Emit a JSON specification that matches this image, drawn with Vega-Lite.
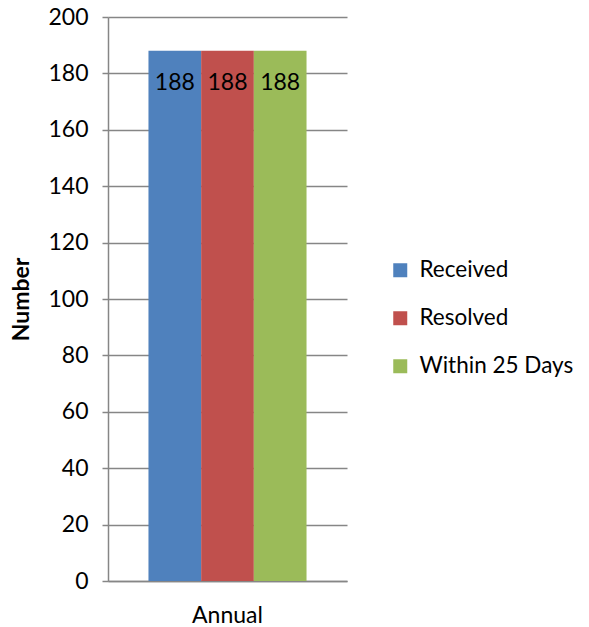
{
  "$schema": "https://vega.github.io/schema/vega-lite/v6.json",
  "width": 239,
  "height": 564,
  "autosize": {"type": "none"},
  "padding": {"left": 108, "top": 17, "right": 242, "bottom": 46},
  "background": "white",
  "config": {"font": "Lato", "view": {"stroke": null}},
  "data": {
    "values": [
      {"period": "Annual", "series": "Received", "value": 188},
      {"period": "Annual", "series": "Resolved", "value": 188},
      {"period": "Annual", "series": "Within 25 Days", "value": 188}
    ]
  },
  "encoding": {
    "x": {
      "field": "period",
      "type": "nominal",
      "scale": {"paddingInner": 0, "paddingOuter": 0.256},
      "axis": {
        "title": null,
        "labelAngle": 0,
        "labelFontSize": 23,
        "labelColor": "black",
        "labelPadding": 23,
        "ticks": false,
        "domainColor": "#868686",
        "domainWidth": 1.5
      }
    },
    "xOffset": {
      "field": "series",
      "type": "nominal",
      "sort": ["Received", "Resolved", "Within 25 Days"],
      "scale": {"paddingInner": 0, "paddingOuter": 0}
    },
    "y": {
      "field": "value",
      "type": "quantitative",
      "scale": {"domain": [0, 200], "nice": false},
      "axis": {
        "title": "Number",
        "titleFontSize": 23,
        "titleFontWeight": "bold",
        "titleColor": "black",
        "titleX": -87,
        "titleY": 282,
        "titleAngle": 270,
        "titleBaseline": "middle",
        "titleAlign": "center",
        "values": [0, 20, 40, 60, 80, 100, 120, 140, 160, 180, 200],
        "labelFontSize": 23,
        "labelColor": "black",
        "labelPadding": 14,
        "tickSize": 6,
        "tickColor": "#868686",
        "tickWidth": 1.5,
        "domainColor": "#868686",
        "domainWidth": 1.5,
        "gridColor": "#868686",
        "gridWidth": 1.5
      }
    }
  },
  "layer": [
    {
      "mark": {"type": "bar"},
      "encoding": {
        "color": {
          "field": "series",
          "type": "nominal",
          "sort": ["Received", "Resolved", "Within 25 Days"],
          "scale": {
            "domain": ["Received", "Resolved", "Within 25 Days"],
            "range": ["#4F81BD", "#C0504D", "#9BBB59"]
          },
          "legend": {
            "title": null,
            "orient": "none",
            "legendX": 281,
            "legendY": 242,
            "symbolType": "square",
            "symbolSize": 196,
            "symbolStrokeWidth": 0,
            "symbolOpacity": 1,
            "labelFontSize": 22.5,
            "labelColor": "black",
            "labelOffset": 8,
            "rowPadding": 25,
            "labelLimit": 300
          }
        }
      }
    },
    {
      "mark": {"type": "text", "baseline": "middle", "dy": 32, "fontSize": 23, "color": "black"},
      "encoding": {"text": {"field": "value", "type": "quantitative"}}
    }
  ]
}
